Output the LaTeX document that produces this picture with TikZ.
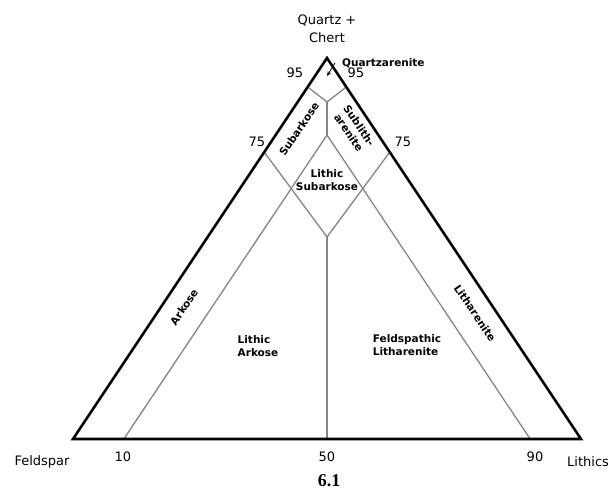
\documentclass[tikz,border=0pt]{standalone}
\usepackage{fontspec}
\setmainfont{DejaVu Sans}
\newfontfamily\capfont{Liberation Serif}
\usetikzlibrary{arrows.meta,calc}
\begin{document}
\begin{tikzpicture}[x=1pt,y=-1pt,
  edge/.style={line width=2.6pt, line join=miter},
  div/.style={line width=1.3pt, draw=black!48},
  axis/.style={font=\fontsize{13}{18}\selectfont, inner sep=0pt, align=center},
  region/.style={font=\bfseries\fontsize{10.5}{12.5}\selectfont, inner sep=0pt, align=center},
  pointer/.style={-{Stealth[length=5pt,width=4pt]}, line width=0.8pt}]
\useasboundingbox[fill=white] (0,0) rectangle (611,491);
% corners and division points
\coordinate (A) at (327,58);
\coordinate (L) at (73,439);
\coordinate (R) at (581,439);
\coordinate (q95l) at ($(A)!0.076!(L)$);
\coordinate (q95r) at ($(A)!0.076!(R)$);
\coordinate (q75l) at ($(A)!0.247!(L)$);
\coordinate (q75r) at ($(A)!0.247!(R)$);
\coordinate (f10) at ($(L)!0.1!(R)$);
\coordinate (f50) at ($(L)!0.5!(R)$);
\coordinate (f90) at ($(L)!0.9!(R)$);
\coordinate (J) at (327,102);
\coordinate (T) at (327,135);
\coordinate (B) at (327,237);
\coordinate (qtip) at (327,76);
% field boundaries
\draw[div] (q95l) -- (J) -- (q95r);
\draw[div] (J) -- (T);
\draw[div] (f10) -- (T) -- (f90);
\draw[div] (q75l) -- (B) -- (q75r);
\draw[div] (B) -- (f50);
% outer triangle
\draw[edge] (A) -- (L) -- (R) -- cycle;
% pole and scale labels
\node[axis] (quartz) at (327,29) {Quartz +\\Chert};
\node[axis] (n95l) at (295,73) {95};
\node[axis] (n95r) at (356,73) {95};
\node[axis] (n75l) at (257,142) {75};
\node[axis] (n75r) at (403,142) {75};
\node[axis] (n10) at (123,457) {10};
\node[axis] (n50) at (327,457) {50};
\node[axis] (n90) at (535,457) {90};
\node[axis] (feld) at (42,462) {Feldspar};
\node[axis, anchor=west] (lith) at (567,462) {Lithics};
% field names
\node[region, anchor=west] (qa) at (342,63) {Quartzarenite};
\draw[pointer] ([xshift=-7pt]qa.west) -- (qtip);
\node[region, rotate=56] (subark) at (299,129) {Subarkose};
\node[region, rotate=-56] (sublith) at (354,129) {Sublith-\\arenite};
\node[region] (lsub) at (327,180) {Lithic\\Subarkose};
\node[region, rotate=56] (ark) at (184,307) {Arkose};
\node[region, rotate=-56] (lithar) at (475,313) {Litharenite};
\node[region, align=left] (lark) at (258,346) {Lithic\\Arkose};
\node[region, align=left] (flith) at (407,345) {Feldspathic\\Litharenite};
% caption
\node[font=\capfont\bfseries\fontsize{18}{20}\selectfont, inner sep=0pt] (cap) at (329,481) {6.1};
\end{tikzpicture}
\end{document}
